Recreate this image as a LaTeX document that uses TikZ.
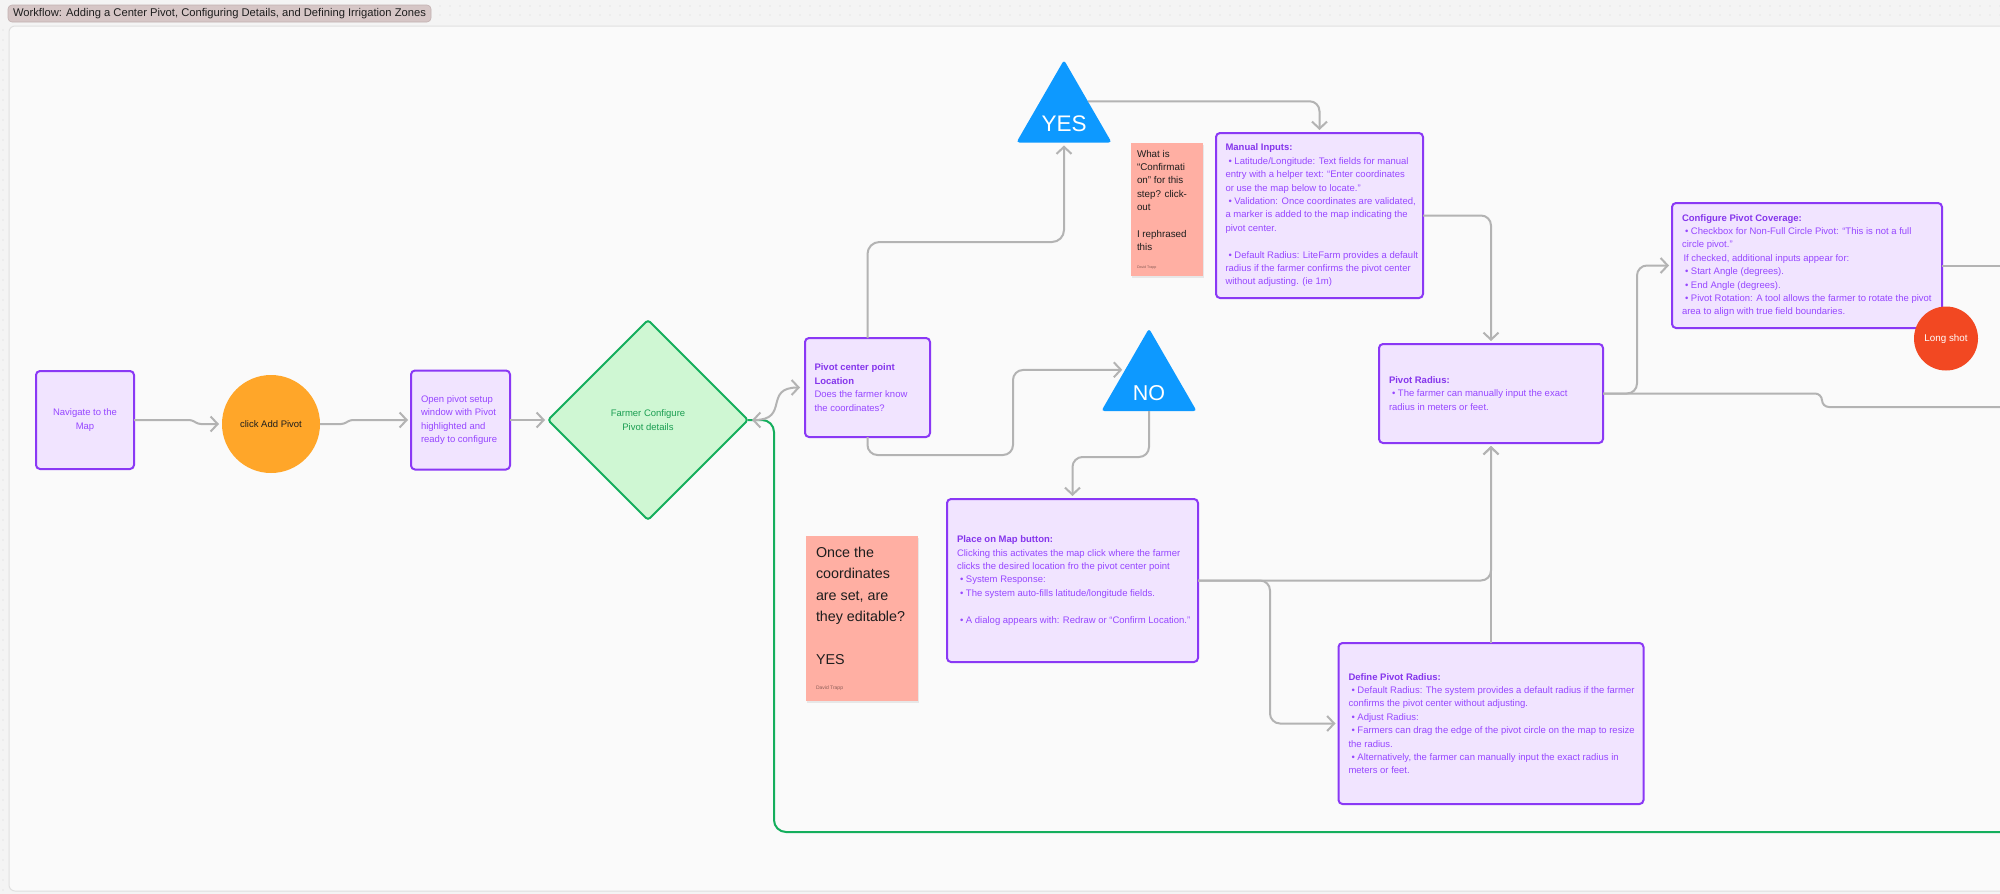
\documentclass[tikz,border=0pt]{standalone}
\usepackage{fontspec}
\setmainfont{Liberation Sans}
\usetikzlibrary{arrows.meta,shapes.geometric,shadows}

\definecolor{bgc}{HTML}{F4F4F4}
\definecolor{dotc}{HTML}{D6D6D6}
\definecolor{canvasc}{HTML}{FAFAFA}
\definecolor{canvasline}{HTML}{E0E0E0}
\definecolor{titlefill}{HTML}{D6C6C6}
\definecolor{titleline}{HTML}{C2B0B0}
\definecolor{boxfill}{HTML}{F1E4FF}
\definecolor{boxline}{HTML}{8A38F5}
\definecolor{boxtext}{HTML}{9747FF}
\definecolor{boxhead}{HTML}{8535EC}
\definecolor{orangec}{HTML}{FFA629}
\definecolor{greenfill}{HTML}{CFF7D3}
\definecolor{greenline}{HTML}{14AE5C}
\definecolor{greentext}{HTML}{1B9E52}
\definecolor{bluec}{HTML}{0D99FF}
\definecolor{redc}{HTML}{F24822}
\definecolor{salmon}{HTML}{FFAFA3}
\definecolor{connc}{HTML}{B3B3B3}
\definecolor{darkc}{HTML}{1E1E1E}
\definecolor{authorc}{HTML}{8C5E58}

\newcommand{\bul}{\hspace*{3pt}•\ }
\newcommand{\hd}[1]{\textbf{\color{boxhead}#1}}

\begin{document}
\begin{tikzpicture}[x=1pt,y=-1pt,
  every node/.style={inner sep=0pt, outer sep=0pt},
  pbox/.style={draw=boxline, fill=boxfill, line width=2pt, rounded corners=4pt},
  btxt/.style={anchor=west, align=left, text=boxtext, font=\fontsize{9.5}{13.4}\selectfont},
  sticky/.style={fill=salmon, drop shadow={opacity=0.15, shadow xshift=0.5pt, shadow yshift=-2pt}},
  conn/.style={draw=connc, line width=2pt, rounded corners=10pt},
  arr/.style={-{Straight Barb[length=7pt,width=15pt]}, shorten >=3pt},
  tri/.style={regular polygon, regular polygon sides=3, fill=bluec, minimum size=110pt, rounded corners=3pt},
]
\useasboundingbox (0,0) rectangle (2000,894);
\fill[bgc] (0,0) rectangle (2000,894);
\foreach \x in {440,450,...,2000} {
  \fill[dotc] (\x,6) circle (0.6pt);
  \fill[dotc] (\x,15) circle (0.6pt);
}
\foreach \y in {30,40,...,890} {
  \fill[dotc] (3,\y) circle (0.6pt);
}
\draw[canvasline, fill=canvasc, line width=1pt, rounded corners=6pt] (9,26) rectangle (2030,891);

% title
\node[fill=titlefill, draw=titleline, line width=0.6pt, rounded corners=4pt, minimum width=423pt, minimum height=17pt, text=darkc, font=\fontsize{11.2}{12}\selectfont] (title) at (219.5,13.5) {Workflow: Adding a Center Pivot, Configuring Details, and Defining Irrigation Zones};

% nodes
\node[pbox, minimum width=98pt, minimum height=98pt, align=center, text=boxtext, font=\fontsize{9.5}{13.4}\selectfont] (nav) at (85,420) {Navigate to the\\Map};
\node[circle, fill=orangec, minimum size=98pt, text=darkc, font=\fontsize{9.5}{13.4}\selectfont] (add) at (271,424) {click Add Pivot};
\node[pbox, minimum width=99pt, minimum height=99pt] (open) at (460.5,420) {};
\node[btxt] (opent) at ([xshift=10pt]open.west) {Open pivot setup\\window with Pivot\\highlighted and\\ready to configure};

\node[diamond, aspect=1, draw=greenline, fill=greenfill, line width=2pt, minimum width=200pt, minimum height=200pt, rounded corners=3pt, align=center, text=greentext, font=\fontsize{9.5}{13.4}\selectfont] (d) at (648,420) {Farmer Configure\\Pivot details};

\node[pbox, minimum width=125pt, minimum height=99pt] (pc) at (867.5,387.5) {};
\node[btxt] (pct) at ([xshift=9.5pt]pc.west) {\hd{Pivot center point}\\\hd{Location}\\Does the farmer know\\the coordinates?};

\node[tri] (yes) at (1064,115) {};
\node[text=white, font=\fontsize{22.5}{23}\selectfont] (yest) at (1064,124) {YES};
\node[tri] (no) at (1149,383.5) {};
\node[text=white, font=\fontsize{21.5}{22}\selectfont] (not) at (1149,393) {NO};

\node[sticky, minimum width=72pt, minimum height=133pt] (s1) at (1167,209.5) {};
\node[anchor=north west, align=left, text=darkc, font=\fontsize{9.8}{13.4}\selectfont] (s1t) at (1137,150) {What is\\“Confirmati\\on” for this\\step? click-\\out\\[13.4pt]I rephrased\\this};
\node[anchor=west, text=authorc, font=\fontsize{3.6}{4}\selectfont] (s1a) at (1137,268) {David Trapp};

\node[pbox, minimum width=207pt, minimum height=165pt] (manual) at (1319.5,215.5) {};
\node[btxt] (manualt) at ([xshift=9.5pt]manual.west) {\hd{Manual Inputs:}\\
\bul Latitude/Longitude: Text fields for manual\\
entry with a helper text: “Enter coordinates\\
or use the map below to locate.”\\
\bul Validation: Once coordinates are validated,\\
a marker is added to the map indicating the\\
pivot center.\\[13.4pt]
\bul Default Radius: LiteFarm provides a default\\
radius if the farmer confirms the pivot center\\
without adjusting. (ie 1m)};

\node[pbox, minimum width=270pt, minimum height=125pt] (config) at (1807,265.5) {};
\node[btxt] (configt) at ([xshift=10pt]config.west) {\hd{Configure Pivot Coverage:}\\
\bul Checkbox for Non-Full Circle Pivot: “This is not a full\\
circle pivot.”\\
\hspace*{1.5pt}If checked, additional inputs appear for:\\
\bul Start Angle (degrees).\\
\bul End Angle (degrees).\\
\bul Pivot Rotation: A tool allows the farmer to rotate the pivot\\
area to align with true field boundaries.};

\node[circle, fill=redc, minimum size=64pt, text=white, font=\fontsize{9.8}{13.4}\selectfont] (long) at (1946,338.5) {Long shot};

\node[pbox, minimum width=224pt, minimum height=99pt] (prad) at (1491,393.5) {};
\node[btxt] (pradt) at ([xshift=10pt]prad.west) {\hd{Pivot Radius:}\\
\bul The farmer can manually input the exact\\
radius in meters or feet.};

\node[pbox, minimum width=251pt, minimum height=163pt] (place) at (1072.5,580.5) {};
\node[btxt] (placet) at ([xshift=10pt]place.west) {\hd{Place on Map button:}\\
Clicking this activates the map click where the farmer\\
clicks the desired location fro the pivot center point\\
\bul System Response:\\
\bul The system auto-fills latitude/longitude fields.\\[13.4pt]
\bul A dialog appears with: Redraw or “Confirm Location.”};

\node[sticky, minimum width=112pt, minimum height=165pt] (s2) at (862,618.5) {};
\node[anchor=north west, align=left, text=darkc, font=\fontsize{14.3}{21.5}\selectfont] (s2t) at (816,547) {Once the\\coordinates\\are set, are\\they editable?\\[21.5pt]YES};
\node[anchor=west, text=authorc, font=\fontsize{5}{6}\selectfont] (s2a) at (816,688) {David Trapp};

\node[pbox, minimum width=305pt, minimum height=161pt] (define) at (1491,723.5) {};
\node[btxt] (definet) at ([xshift=10pt]define.west) {\hd{Define Pivot Radius:}\\
\bul Default Radius: The system provides a default radius if the farmer\\
confirms the pivot center without adjusting.\\
\bul Adjust Radius:\\
\bul Farmers can drag the edge of the pivot circle on the map to resize\\
the radius.\\
\bul Alternatively, the farmer can manually input the exact radius in\\
meters or feet.};

% free ends
\coordinate (e1) at (2000,407);
\coordinate (e2) at (2000,265.5);
\coordinate (e3) at (2000,832);

% connectors
\draw[greenline, line width=2pt, rounded corners=12pt] (e3) -| (774,420) -- (d.east);
\draw[conn, arr, rounded corners=3pt] (nav.east) -- ++(58,0) -- ++(6,4) -- (add.west);
\draw[conn, arr, rounded corners=3pt] (add.east) -- ++(24,0) -- ++(6,-4) -- (open.west);
\draw[conn, arr] (open.east) -- (d.west);
\draw[draw=connc, line width=2pt, {Straight Barb[length=7pt,width=15pt]}-{Straight Barb[length=7pt,width=15pt]}, shorten <=4pt, shorten >=5pt] (d.east) .. controls +(42,0) and +(-42,0) .. (pc.west);
\draw[conn, arr, rounded corners=12pt] (pc.north) -- ++(0,-96) -| (yes.side 2);
\draw[conn, arr] (yes.side 3) -| (manual.north);
\draw[conn, arr] (manual.east) -| (prad.north);
\draw[conn, arr] (pc.south) -- ++(0,18) -| (1013,370) -- (no.side 1);
\draw[conn, arr] (no.side 2) -- ++(0,46) -| (place.north);
\draw[conn, arr] (place.east) -| (prad.south);
\draw[conn, arr] (place.east) -- ++(72,0) |- (define.west);
\draw[conn, arr] (define.north) -- (prad.south);
\draw[conn, arr] (prad.east) -- ++(34,0) |- (config.west);
\draw[conn, rounded corners=7pt] (prad.east) -- (1822,393.5) |- (e1);
\draw[conn] (config.east) -- (e2);
\end{tikzpicture}
\end{document}
